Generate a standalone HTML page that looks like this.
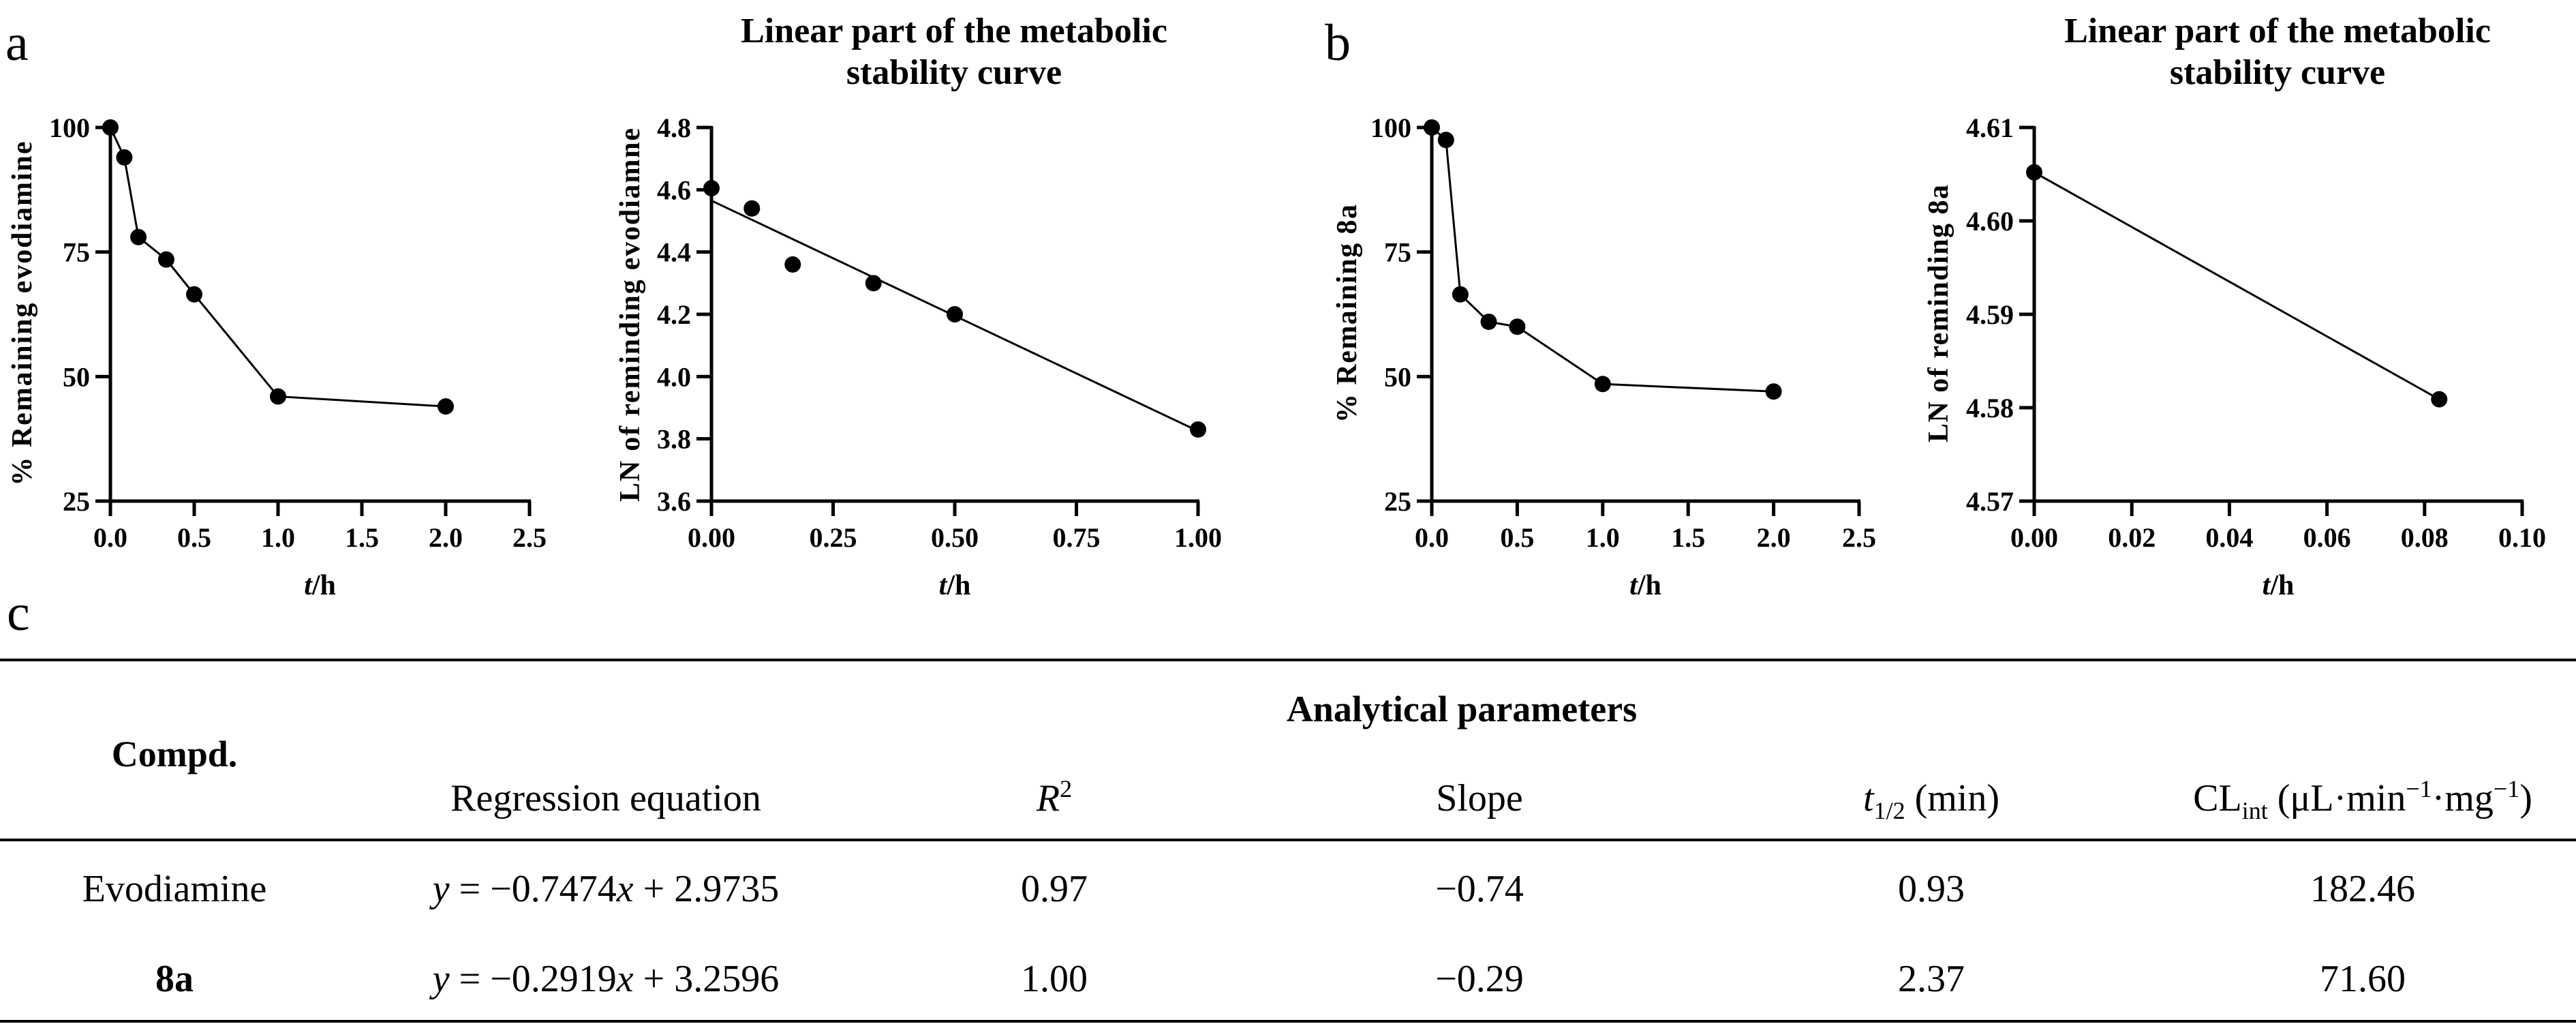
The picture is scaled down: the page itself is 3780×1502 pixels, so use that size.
<!DOCTYPE html>
<html><head><meta charset="utf-8"><style>
html,body{margin:0;padding:0;background:#fff;}
svg{display:block;font-family:"Liberation Serif","Times New Roman",serif;}
</style></head><body>
<svg id="fig" width="3780" height="1502" viewBox="0 0 3780 1502" xmlns="http://www.w3.org/2000/svg">
<g id="charts"></g>
<g id="table" font-size="56" text-anchor="middle" fill="#000">
  <text x="10" y="924" font-size="76" text-anchor="start">c</text>
  <line x1="0" y1="968" x2="3780" y2="968" stroke="#000" stroke-width="4"/>
  <text x="2145" y="1058" font-weight="bold" font-size="54">Analytical parameters</text>
  <text x="256" y="1124" font-weight="bold" font-size="54">Compd.</text>
  <text x="889" y="1189">Regression equation</text>
  <text x="1547" y="1189"><tspan font-style="italic">R</tspan><tspan font-size="36" dy="-20">2</tspan></text>
  <text x="2171" y="1189">Slope</text>
  <text x="2834" y="1189"><tspan font-style="italic">t</tspan><tspan font-size="36" dy="12">1/2</tspan><tspan dy="-12"> (min)</tspan></text>
  <text x="3467" y="1189">CL<tspan font-size="36" dy="12">int</tspan><tspan dy="-12"> (μL·min</tspan><tspan font-size="36" dy="-20">−1</tspan><tspan dy="20">·mg</tspan><tspan font-size="36" dy="-20">−1</tspan><tspan dy="20">)</tspan></text>
  <line x1="0" y1="1232" x2="3780" y2="1232" stroke="#000" stroke-width="4"/>
  <text x="256" y="1322">Evodiamine</text>
  <text x="889" y="1322"><tspan font-style="italic">y</tspan> = −0.7474<tspan font-style="italic">x</tspan> + 2.9735</text>
  <text x="1547" y="1322">0.97</text>
  <text x="2171" y="1322">−0.74</text>
  <text x="2834" y="1322">0.93</text>
  <text x="3467" y="1322">182.46</text>
  <text x="256" y="1454" font-weight="bold">8a</text>
  <text x="889" y="1454"><tspan font-style="italic">y</tspan> = −0.2919<tspan font-style="italic">x</tspan> + 3.2596</text>
  <text x="1547" y="1454">1.00</text>
  <text x="2171" y="1454">−0.29</text>
  <text x="2834" y="1454">2.37</text>
  <text x="3467" y="1454">71.60</text>
  <line x1="0" y1="1498" x2="3780" y2="1498" stroke="#000" stroke-width="4"/>
</g>
</svg>
<script>
// Panel a (left): % remaining evodiamine
const evoTimes = [0, 0.083, 0.167, 0.333, 0.5, 1, 2];
const evoRemaining = [100, 94, 78, 73.5, 66.5, 46, 44];
// Panel a (right): LN of remaining evodiamine
const evoLnTimes = [0, 0.083, 0.167, 0.333, 0.5, 1];
const evoLnValues = [4.605, 4.54, 4.36, 4.30, 4.20, 3.83];
const evoFitX = [0, 1];
const evoFitY = [4.565, 3.825];
// Panel b (left): % remaining 8a
const c8aTimes = [0, 0.083, 0.167, 0.333, 0.5, 1, 2];
const c8aRemaining = [100, 97.5, 66.5, 61, 60, 48.5, 47];
// Panel b (right): LN of remaining 8a
const c8aLnTimes = [0, 0.083];
const c8aLnValues = [4.6052, 4.5809];
// tick labels
const pctTicks = [25, 50, 75, 100];
const timeTicksA = ["0.0", "0.5", "1.0", "1.5", "2.0", "2.5"];
const lnTicksA = ["3.6", "3.8", "4.0", "4.2", "4.4", "4.6", "4.8"];
const timeTicksB = ["0.00", "0.25", "0.50", "0.75", "1.00"];
const lnTicksB = ["4.57", "4.58", "4.59", "4.60", "4.61"];
const timeTicksC = ["0.00", "0.02", "0.04", "0.06", "0.08", "0.10"];

const NS = "http://www.w3.org/2000/svg";
const root = document.getElementById("charts");
function mk(tag, attrs, parent) {
  const e = document.createElementNS(NS, tag);
  for (const k in attrs) e.setAttribute(k, attrs[k]);
  (parent || root).appendChild(e);
  return e;
}
function chart(cfg) {
  const g = mk("g", {});
  
  
  const X0 = cfg.x0, X1 = cfg.x1, Y0 = 735, Y1 = 187;
  const sx = v => X0 + (v - cfg.xmin) / (cfg.xmax - cfg.xmin) * (X1 - X0);
  const sy = v => Y0 - (v - cfg.ymin) / (cfg.ymax - cfg.ymin) * (Y0 - Y1);
  const ax = mk("g", {stroke: "#000", "stroke-width": 5, fill: "none"}, g);
  
  
  mk("line", {x1: X0, y1: Y0, x2: X1 + 2, y2: Y0}, ax);
  mk("line", {x1: X0, y1: Y0 + 2, x2: X0, y2: Y1 - 2}, ax);
  cfg.xticks.forEach(t => {
    const x = sx(parseFloat(t));
    mk("line", {x1: x, y1: Y0, x2: x, y2: Y0 + 22}, ax);
    const tx = mk("text", {x: x, y: 802, "font-size": 40, "font-weight": "bold", "text-anchor": "middle"}, g);
    
    
    tx.textContent = t;
  });
  cfg.yticks.forEach(t => {
    const y = sy(parseFloat(t));
    mk("line", {x1: X0, y1: y, x2: X0 - 22, y2: y}, ax);
    const ty = mk("text", {x: X0 - 30, y: y + 14, "font-size": 40, "font-weight": "bold", "text-anchor": "end"}, g);
    
    
    ty.textContent = t;
  });
  const lx = cfg.lineX || cfg.xs, ly = cfg.lineY || cfg.ys;
  const pts = lx.map((v, i) => sx(v) + "," + sy(ly[i])).join(" ");
  const pl = mk("polyline", {points: pts, fill: "none", stroke: "#000", "stroke-width": 3}, g);
  
  
  cfg.xs.forEach((v, i) => {
    const c = mk("circle", {cx: sx(v), cy: sy(cfg.ys[i]), r: 12, fill: "#000"}, g);
    
    
  });
  const xl = mk("text", {x: (X0 + X1) / 2, y: 872, "font-size": 42, "font-weight": "bold", "text-anchor": "middle"}, g);
  
  
  xl.innerHTML = '<tspan font-style="italic">t</tspan>/h';
  const yl = mk("text", {x: 0, y: 0, "font-size": 42, "font-weight": "bold", "text-anchor": "middle",
    textLength: cfg.ylen, lengthAdjust: "spacing",
    transform: "translate(" + cfg.ylx + "," + cfg.lyc + ") rotate(-90)"}, g);
  
  
  yl.textContent = cfg.ylabel;
  if (cfg.title) {
    cfg.title.forEach((line, i) => {
      const t = mk("text", {x: cfg.tcx, y: 62 + i * 61, "font-size": 52, "font-weight": "bold", "text-anchor": "middle"}, g);
      
      
      t.textContent = line;
    });
  }
}
const la = mk("text", {x: 8, y: 88, "font-size": 76});


la.textContent = "a";
const lb = mk("text", {x: 1944, y: 88, "font-size": 76});


lb.textContent = "b";

chart({name: "evodiamine-remaining-chart", x0: 162, x1: 777, xmin: 0, xmax: 2.5, ymin: 25, ymax: 100,
  xs: evoTimes, ys: evoRemaining, xticks: timeTicksA, yticks: pctTicks.map(String),
  ylabel: "% Remaining evodiamine", ylx: 46, lyc: 460, ylen: 505});
chart({name: "evodiamine-ln-chart", x0: 1044, x1: 1758, xmin: 0, xmax: 1, ymin: 3.6, ymax: 4.8,
  xs: evoLnTimes, ys: evoLnValues, lineX: evoFitX, lineY: evoFitY, xticks: timeTicksB, yticks: lnTicksA,
  ylabel: "LN of reminding evodiamne", ylx: 938, lyc: 462, ylen: 548,
  title: ["Linear part of the metabolic", "stability curve"], tcx: 1400});
chart({name: "8a-remaining-chart", x0: 2101, x1: 2728, xmin: 0, xmax: 2.5, ymin: 25, ymax: 100,
  xs: c8aTimes, ys: c8aRemaining, xticks: timeTicksA, yticks: pctTicks.map(String),
  ylabel: "% Remaining 8a", ylx: 1990, lyc: 460, ylen: 320});
chart({name: "8a-ln-chart", x0: 2985, x1: 3701, xmin: 0, xmax: 0.1, ymin: 4.57, ymax: 4.61,
  xs: c8aLnTimes, ys: c8aLnValues, xticks: timeTicksC, yticks: lnTicksB,
  ylabel: "LN of reminding 8a", ylx: 2858, lyc: 460, ylen: 378,
  title: ["Linear part of the metabolic", "stability curve"], tcx: 3342});
</script>
</body></html>
